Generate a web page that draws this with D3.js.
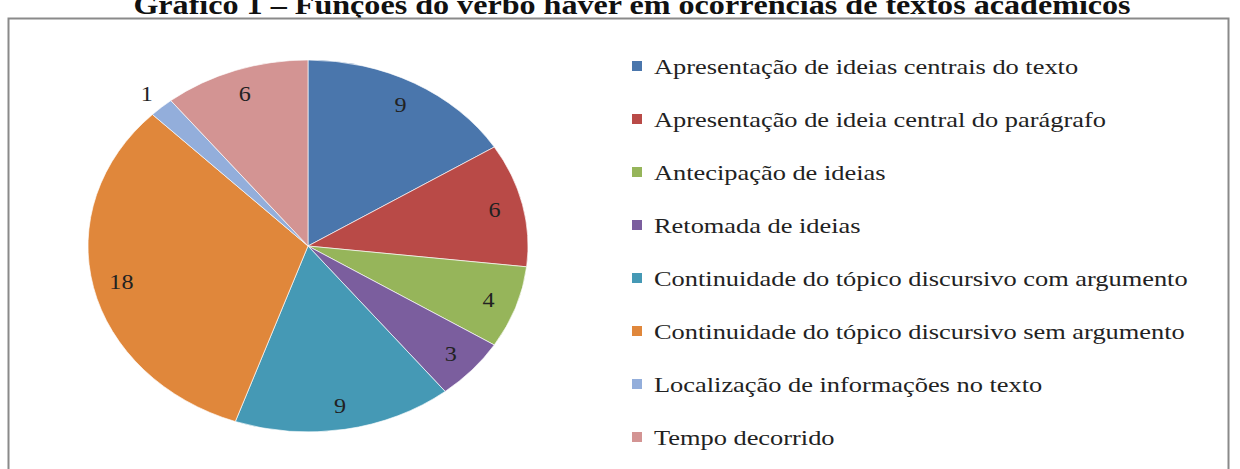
<!DOCTYPE html>
<html>
<head>
<meta charset="utf-8">
<script src="https://cdn.jsdelivr.net/npm/d3@7"></script>
<style>
  body { margin: 0; background: #fff; }
  svg { display: block; }
  text { font-family: "Liberation Serif", "Times New Roman", serif; }
</style>
</head>
<body>
<div id="chart-area"></div>
<script>
const title = 'Gráfico 1 – Funções do verbo haver em ocorrências de textos acadêmicos';
const categories = [
  'Apresentação de ideias centrais do texto',
  'Apresentação de ideia central do parágrafo',
  'Antecipação de ideias',
  'Retomada de ideias',
  'Continuidade do tópico discursivo com argumento',
  'Continuidade do tópico discursivo sem argumento',
  'Localização de informações no texto',
  'Tempo decorrido'
];
const values = [9, 6, 4, 3, 9, 18, 1, 6];
const colors = ['#4a76ac', '#b94a47', '#96b55a', '#7b5e9e', '#4599b5', '#e0873b', '#93aedb', '#d39493'];

const drawChart = () => {
  const chartSize = { width: 1240, height: 469 };
  const pie = { cx: 308, cy: 246, rx: 220, ry: 186 };
  const legend = { x: 632, y: 66, step: 53 };
  const stretch = 1.2; // the source picture is stretched sideways

  const svg = d3.select('#chart-area').append('svg')
    .attr('width', chartSize.width)
    .attr('height', chartSize.height);

  svg.append('g')
    .attr('transform', `translate(632,14) scale(1.19,1)`)
    .append('text')
    .attr('text-anchor', 'middle')
    .attr('font-size', 27)
    .attr('font-weight', 'bold')
    .attr('fill', '#111')
    .text(title);

  svg.append('rect')
    .attr('x', 8.5)
    .attr('y', 18.5)
    .attr('width', 1220)
    .attr('height', 480)
    .attr('fill', '#fff')
    .attr('stroke', '#8a8a8a')
    .attr('stroke-width', 2);

  const data = categories.map((c, i) => ({ name: c, value: values[i], color: colors[i] }));
  const arcs = d3.pie().sort(null).value(d => d.value)(data);

  const arc = d3.arc().innerRadius(0).outerRadius(pie.ry);
  const sx = pie.rx / pie.ry;

  const g = svg.append('g')
    .attr('transform', `translate(${pie.cx},${pie.cy})`);

  g.append('g')
    .attr('transform', `scale(${sx},1)`)
    .selectAll('path')
    .data(arcs)
    .enter()
    .append('path')
    .attr('d', arc)
    .attr('fill', d => d.data.color)
    .attr('stroke', '#fff')
    .attr('stroke-width', 0.6);

  // labels: inside for most, outside for the tiny slice
  const labelArc = d => {
    const r = d.data.value < 2 ? 1.1 : 0.87;
    return d3.arc().innerRadius(pie.ry * r).outerRadius(pie.ry * r);
  };

  g.selectAll('.label')
    .data(arcs)
    .enter()
    .append('g')
    .attr('class', 'label')
    .attr('transform', d => `translate(${labelArc(d).centroid(d)[0] * sx},${labelArc(d).centroid(d)[1]}) scale(1.15,1)`)
    .append('text')
    .attr('dy', '0.35em')
    .attr('text-anchor', 'middle')
    .attr('font-size', 21)
    .attr('fill', '#222')
    .text(d => d.data.value);

  const items = svg.selectAll('.legend-item')
    .data(data)
    .enter()
    .append('g')
    .attr('class', 'legend-item')
    .attr('transform', (d, i) => `translate(${legend.x},${legend.y + i * legend.step})`);

  items.append('rect')
    .attr('x', 0)
    .attr('y', -5)
    .attr('width', 10)
    .attr('height', 10)
    .attr('fill', d => d.color);

  items.append('g')
    .attr('transform', `translate(22,0) scale(${stretch},1)`)
    .append('text')
    .attr('dy', '0.35em')
    .attr('font-size', 22)
    .attr('fill', '#222')
    .text(d => d.name);
}

window.onload = drawChart;
</script>
</body>
</html>
